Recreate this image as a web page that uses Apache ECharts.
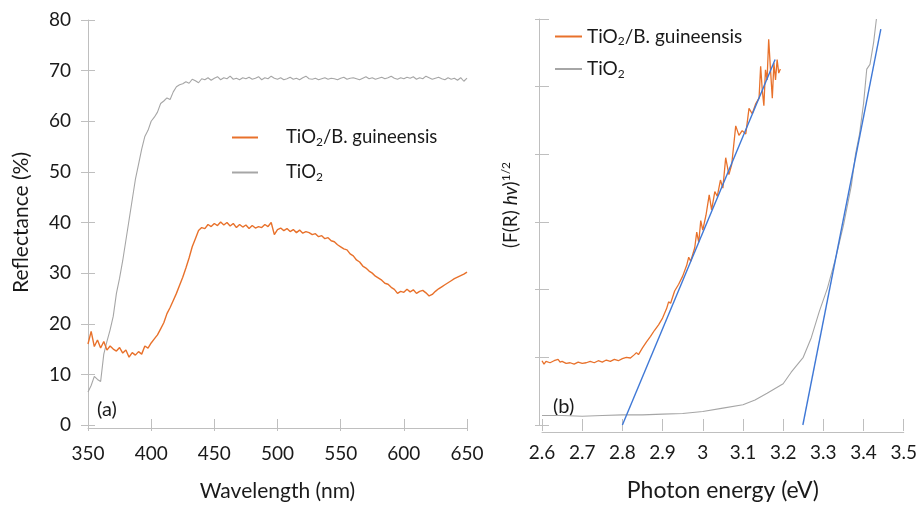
<!DOCTYPE html>
<html>
<head>
<meta charset="utf-8">
<script src="https://cdn.jsdelivr.net/npm/echarts@6/dist/echarts.min.js"></script>
<style>
  html, body { margin: 0; background: #fff; }
  #chart { width: 920px; height: 507px; }
</style>
</head>
<body>
<div id="chart"></div>
<script>
// (a) reflectance spectra, one value every 2.5 nm from 350 to 650 nm
const wavelengthStart = 350
const wavelengthStep = 2.5
const reflGuineensis = [
  16.0, 18.5, 15.5, 16.8, 15.2, 16.5, 14.8, 15.6, 15.0, 14.6,
  15.3, 14.2, 14.8, 13.4, 14.3, 13.8, 14.5, 14.0, 15.6, 15.2,
  16.2, 17.0, 17.8, 19.0, 20.2, 22.0, 23.2, 24.6, 26.0, 27.6,
  29.2, 31.0, 33.0, 35.2, 36.8, 38.4, 39.0, 38.8, 39.6, 39.2,
  39.8, 39.4, 40.1, 39.5, 40.0, 39.3, 39.8, 39.0, 39.6, 39.1,
  39.5, 38.8, 39.4, 38.9, 39.2, 39.0, 39.6, 39.2, 40.0, 37.6,
  38.6, 38.9, 38.4, 38.8, 38.2, 38.6, 38.0, 38.5, 37.9, 38.2,
  38.0, 37.6, 37.8, 37.2, 37.4, 36.8, 37.0, 36.4, 36.2, 35.6,
  35.2, 34.8, 34.6, 33.8, 33.4, 32.6, 32.2, 31.4, 31.0, 30.4,
  30.0, 29.4, 29.0, 28.6, 28.0, 27.8, 27.2, 26.8, 26.0, 26.4,
  26.2, 26.8, 26.3, 26.7, 26.0, 26.4, 26.6, 26.1, 25.5, 25.8,
  26.4, 26.9, 27.3, 27.7, 28.1, 28.5, 28.9, 29.2, 29.5, 29.8,
  30.2
]
const reflTiO2 = [
  6.5, 7.8, 9.6, 9.0, 8.6, 14.0, 16.5, 18.8, 21.5, 26.0,
  29.0, 32.5, 36.5, 40.5, 44.5, 48.5, 51.5, 54.5, 57.0, 58.2,
  60.0, 60.8, 61.8, 63.5, 64.0, 64.6, 64.3, 65.8, 66.8, 67.2,
  67.4, 67.8, 67.5, 68.3, 68.0, 67.6, 68.4, 68.2, 68.6, 68.1,
  68.5, 68.8, 68.2, 68.6, 68.4, 68.9, 68.3, 68.5, 68.2, 68.6,
  68.4, 68.7, 68.3, 68.5, 68.8, 68.2, 68.6, 68.4, 68.9, 68.5,
  68.3, 68.6, 68.2, 68.4, 68.7, 68.3, 68.5, 68.2, 68.6, 68.9,
  68.4, 68.3, 68.5, 68.2, 68.4, 68.6, 68.3, 68.5, 68.4, 68.2,
  68.5, 68.7, 68.3, 68.5, 68.6, 68.4, 68.2, 68.5, 68.8, 68.4,
  68.6, 68.3, 68.5, 68.7, 68.4, 68.6, 68.9, 68.5, 68.3, 68.6,
  68.4, 68.7, 68.5, 68.8, 68.3, 68.6, 68.4, 68.9, 68.6, 68.3,
  68.5, 68.7, 68.4, 68.2, 68.6, 68.3, 68.5, 68.1, 68.6, 67.9,
  68.5
]

// (b) Kubelka-Munk plot, [photon energy eV, (F(R) hv)^1/2]
const kmGuineensis = [
  [2.600, 0.95], [2.605, 0.90], [2.610, 0.94], [2.620, 0.92], [2.630, 0.95],
  [2.640, 0.97], [2.645, 0.93], [2.650, 0.94], [2.660, 0.91], [2.670, 0.92],
  [2.680, 0.90], [2.690, 0.93], [2.700, 0.91], [2.710, 0.92], [2.720, 0.94],
  [2.730, 0.92], [2.740, 0.95], [2.750, 0.93], [2.760, 0.96], [2.770, 0.94],
  [2.780, 0.97], [2.790, 0.95], [2.800, 0.98], [2.810, 1.00], [2.820, 0.99],
  [2.830, 1.04], [2.835, 1.07], [2.840, 1.04], [2.850, 1.14], [2.860, 1.23],
  [2.870, 1.31], [2.880, 1.40], [2.890, 1.48], [2.900, 1.58], [2.910, 1.72],
  [2.915, 1.82], [2.920, 1.80], [2.930, 1.98], [2.940, 2.08], [2.950, 2.20],
  [2.960, 2.36], [2.965, 2.48], [2.970, 2.42], [2.980, 2.62], [2.985, 2.85],
  [2.990, 2.70], [2.995, 3.02], [3.000, 2.88], [3.008, 3.10], [3.016, 3.40],
  [3.022, 3.18], [3.030, 3.45], [3.036, 3.38], [3.044, 3.62], [3.050, 3.50],
  [3.057, 3.95], [3.065, 3.70], [3.072, 3.85], [3.082, 4.42], [3.090, 4.28],
  [3.098, 4.35], [3.107, 4.30], [3.115, 4.68], [3.123, 4.60], [3.132, 4.75],
  [3.140, 4.83], [3.144, 5.30], [3.148, 4.95], [3.152, 4.72], [3.156, 5.25],
  [3.160, 5.10], [3.164, 5.70], [3.168, 5.30], [3.173, 4.83], [3.177, 5.35],
  [3.181, 5.10], [3.185, 5.40], [3.189, 5.20], [3.193, 5.26]
]
const kmTiO2 = [
  [2.60, 0.14], [2.65, 0.14], [2.70, 0.13], [2.75, 0.14], [2.80, 0.15],
  [2.85, 0.15], [2.90, 0.16], [2.95, 0.17], [3.00, 0.20], [3.05, 0.25],
  [3.10, 0.30], [3.13, 0.37], [3.16, 0.47], [3.20, 0.61], [3.22, 0.78],
  [3.25, 1.00], [3.27, 1.29], [3.29, 1.68], [3.31, 2.02], [3.33, 2.45],
  [3.35, 2.95], [3.37, 3.55], [3.38, 4.00], [3.39, 4.30], [3.40, 4.75],
  [3.408, 5.26], [3.416, 5.33], [3.425, 5.65], [3.432, 6.00]
]
// linear band-gap fits (end points)
const fitGuineensis = [[2.80, 0], [3.18, 5.40]]
const fitTiO2 = [[3.249, 0], [3.443, 5.85]]

const NAME_G = 'TiO2/B. guineensis'
const NAME_T = 'TiO2'
const FONT = 'Lato, "Open Sans", sans-serif'
const ORANGE = '#E8712B'
const GREY = '#A6A6A6'
const BLUE = '#3F78D6'
const AXIS = '#BFBFBF'
const TEXT = '#1a1a1a'

const toPairs = (vals) => vals.map((v, i) => [wavelengthStart + i * wavelengthStep, v])

const chart = echarts.init(document.getElementById('chart'))

const subRich = (size) => ({
  s: { fontSize: 12, fontFamily: FONT, color: TEXT, verticalAlign: 'bottom', padding: [size - 9, 0, 0, 0] }
})

// the labelled axis is pushed a few px into the plot and its ticks are made
// long, so they cross the real axis line (drawn by lineAxis below)
function tickAxis(grid, min, max, interval, position, inset, extra) {
  return Object.assign({
    type: 'value',
    gridIndex: grid,
    position, offset: -inset,
    min, max, interval,
    axisLine: { show: false, onZero: false },
    axisTick: { show: true, inside: false, length: 2 * inset, lineStyle: { color: AXIS } },
    splitLine: { show: false },
    axisLabel: { color: TEXT, fontSize: 19, fontFamily: FONT, margin: 17 + inset },
    nameTextStyle: { color: TEXT, fontSize: 21, fontFamily: FONT }
  }, extra)
}

// plain axis line on the opposite side, moved back across the grid
function lineAxis(grid, min, max, position, offset) {
  return {
    type: 'value',
    gridIndex: grid,
    position, offset,
    min, max,
    axisLine: { show: true, onZero: false, lineStyle: { color: AXIS, width: 1 } },
    axisTick: { show: false },
    axisLabel: { show: false },
    splitLine: { show: false }
  }
}

const option = {
  animation: false,
  backgroundColor: '#fff',
  grid: [
    { left: 88, right: 453, top: 20, bottom: 79 },
    { left: 542, right: 14, top: 19, bottom: 75 }
  ],
  xAxis: [
    tickAxis(0, 350, 650, 50, 'bottom', 6, {
      name: 'Wavelength (nm)', nameLocation: 'middle', nameGap: 62,
      axisLabel: { color: TEXT, fontSize: 19, fontFamily: FONT, margin: 25 }
    }),
    lineAxis(0, 350, 650, 'top', -408),
    tickAxis(1, 2.6, 3.5, 0.1, 'bottom', 6, {
      name: 'Photon energy (eV)', nameLocation: 'middle', nameGap: 60,
      axisLabel: { color: TEXT, fontSize: 19, fontFamily: FONT, margin: 24 },
      nameTextStyle: { color: TEXT, fontSize: 23, fontFamily: FONT }
    }),
    lineAxis(1, 2.6, 3.5, 'top', -413)
  ],
  yAxis: [
    tickAxis(0, 0, 80, 10, 'left', 7, {
      name: 'Reflectance (%)', nameLocation: 'middle', nameGap: 63
    }),
    lineAxis(0, 0, 80, 'right', -379),
    tickAxis(1, 0, 6, 1, 'left', 7, { axisLabel: { show: false } }),
    lineAxis(1, 0, 6, 'right', -364)
  ],
  legend: [
    {
      orient: 'vertical', left: 232, top: 128, itemGap: 15, padding: 0,
      data: [NAME_G, NAME_T], icon: 'rect', itemWidth: 26, itemHeight: 2, itemStyle: { borderWidth: 0 },
      selectedMode: false,
      formatter: (n) => n === NAME_G ? 'TiO{s|2}/B. guineensis' : 'TiO{s|2}',
      textStyle: { color: TEXT, fontSize: 18.5, fontFamily: FONT, padding: [0, 0, 0, 23], rich: subRich(18) }
    },
    {
      orient: 'vertical', left: 555, top: 27, itemGap: 12, padding: 0,
      data: [NAME_G, NAME_T], icon: 'rect', itemWidth: 27, itemHeight: 2, itemStyle: { borderWidth: 0 },
      selectedMode: false, textStyle: { color: TEXT, fontSize: 19, fontFamily: FONT, rich: subRich(19) },
      formatter: (n) => n === NAME_G ? 'TiO{s|2}/B. guineensis' : 'TiO{s|2}'
    }
  ],
  graphic: [
    { type: 'text', left: 97, top: 400, style: { text: '(a)', font: '20px ' + FONT, fill: TEXT } },
    { type: 'text', left: 553, top: 397, style: { text: '(b)', font: '20px ' + FONT, fill: TEXT } },
    {
      type: 'text', x: 511, y: 205, rotation: Math.PI / 2,
      style: {
        text: '{n|(F(R) }{i|hv}{n|)}{sup|1/2}', align: 'center', verticalAlign: 'middle',
        rich: {
          n: { fontSize: 19, fontFamily: FONT, fill: TEXT },
          i: { fontSize: 19, fontFamily: FONT, fill: TEXT, fontStyle: 'italic' },
          sup: { fontSize: 12, fontFamily: FONT, fill: TEXT, verticalAlign: 'top', padding: [0, 0, 9, 0] }
        }
      }
    }
  ],
  series: [
    {
      name: NAME_T, type: 'line', xAxisIndex: 0, yAxisIndex: 0, data: toPairs(reflTiO2),
      showSymbol: false, lineStyle: { color: GREY, width: 1.1 }, itemStyle: { color: GREY }
    },
    {
      name: NAME_G, type: 'line', xAxisIndex: 0, yAxisIndex: 0, data: toPairs(reflGuineensis),
      showSymbol: false, lineStyle: { color: ORANGE, width: 1.4 }, itemStyle: { color: ORANGE }
    },
    {
      name: NAME_T, type: 'line', xAxisIndex: 2, yAxisIndex: 2, data: kmTiO2,
      showSymbol: false, lineStyle: { color: GREY, width: 1.1 }, itemStyle: { color: GREY }
    },
    {
      name: NAME_G, type: 'line', xAxisIndex: 2, yAxisIndex: 2, data: kmGuineensis,
      showSymbol: false, lineStyle: { color: ORANGE, width: 1.3 }, itemStyle: { color: ORANGE }
    },
    {
      name: 'fit1', type: 'line', xAxisIndex: 2, yAxisIndex: 2, data: fitGuineensis,
      showSymbol: false, lineStyle: { color: BLUE, width: 1.4 }, z: 3
    },
    {
      name: 'fit2', type: 'line', xAxisIndex: 2, yAxisIndex: 2, data: fitTiO2,
      showSymbol: false, lineStyle: { color: BLUE, width: 1.4 }, z: 3
    }
  ]
}

chart.setOption(option)
</script>
</body>
</html>
